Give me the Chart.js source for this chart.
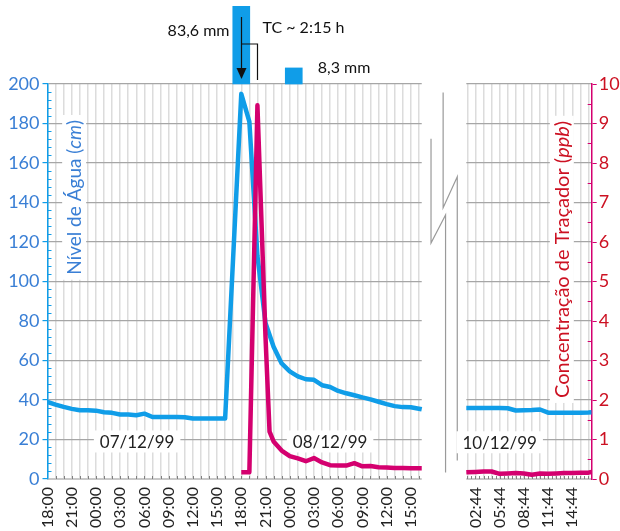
<!DOCTYPE html>
<html>
<head>
<meta charset="utf-8">
<script src="https://cdn.jsdelivr.net/npm/chart.js@4.4.1/dist/chart.umd.min.js"></script>
<style>
  html, body { margin: 0; padding: 0; background: #fff; }
  #wrap { position: relative; width: 620px; height: 531px; }
</style>
</head>
<body>
<div id="wrap"><canvas id="chart" width="620" height="531"></canvas></div>
<script>
// painel esquerdo: horas desde 07/12/99 18:00
const levelHours = [0,1,2,3,4,5,6,7,8,9,10,11,12,13,14,15,16,17,18,19,20,21,22,
  24,25,26,27,28,29,30,31,32,33,34,35,36,37,38,39,40,41,42,43,44,45,46,46.35];
const levelValues = [39,37.7,36.5,35.5,34.8,34.8,34.6,33.8,33.5,32.7,32.6,32.3,33.1,31.4,31.4,31.4,31.4,31.3,30.6,30.6,30.6,30.6,30.6,
  195,181,113,79,67,58.5,54.5,52,50.5,50.2,47.5,46.6,44.6,43.4,42.4,41.3,40.3,39.1,37.9,36.9,36.4,36.3,35.6,35.3];

const tracerHours = [24,25,26,27,27.5,28,29,30,31,32,33,34,35,36,37,38,39,40,41,42,43,44,45,46,46.35];
const tracerValues = [0.17,0.17,9.46,3.6,1.2,0.95,0.72,0.58,0.52,0.45,0.53,0.42,0.35,0.34,0.34,0.40,0.32,0.33,0.30,0.29,0.28,0.28,0.27,0.27,0.27];

// painel direito: horas do dia 10/12/99
const rightHours = [1.6,2.73,3.73,4.73,5.73,6.73,7.73,8.73,9.73,10.73,11.73,12.73,13.73,14.73,15.73,16.73,17.13];
const rightLevel = [35.9,35.9,35.9,35.9,35.9,35.8,34.7,34.8,34.9,35.2,33.6,33.5,33.5,33.6,33.6,33.7,33.8];
const rightTracer = [0.17,0.18,0.19,0.19,0.13,0.14,0.15,0.14,0.11,0.14,0.13,0.14,0.15,0.15,0.16,0.16,0.18];

// chuva (mm)
const rainHours = [24, 30.5];
const rainMm = [83.6, 8.3];

const leftTickLabels = ['18:00','21:00','00:00','03:00','06:00','09:00','12:00','15:00',
  '18:00','21:00','00:00','03:00','06:00','09:00','12:00','15:00'];
const rightTickLabels = ['02:44','05:44','08:44','11:44','14:44'];
const dateLabels = ['07/12/99', '08/12/99', '10/12/99'];

const RIGHT_SHIFT = 50.27;          // posição do painel direito no eixo x
const LEFT_END = 46.35;
const RIGHT_START = rightHours[0] + RIGHT_SHIFT;
const X_MAX = rightHours[rightHours.length - 1] + RIGHT_SHIFT;

const BLUE = '#109de8', MAGENTA = '#d4006f', AXIS_BLUE = '#3a7fd5', RED = '#cc1122';
const FONT = 'Lato, "Open Sans", sans-serif';

const pts = (xs, ys) => xs.map((x, i) => ({ x, y: ys[i] }));
const shift = xs => xs.map(x => +(x + RIGHT_SHIFT).toFixed(3));

// ticks do eixo x: grade a cada hora, rótulo a cada 3 h
const xTicks = [];
for (let h = 0; h <= 46; h++) xTicks.push({ value: h, label: h % 3 === 0 ? leftTickLabels[h / 3] : '' });
for (let k = -1; k <= 14; k++) {
  const v = +(2.73 + k + RIGHT_SHIFT).toFixed(3);
  xTicks.push({ value: v, label: k >= 0 && k % 3 === 0 ? rightTickLabels[k / 3] : '' });
}

function richText(ctx, parts, cx, cy, color, size, box) {
  ctx.save();
  ctx.translate(cx, cy);
  ctx.rotate(-Math.PI / 2);
  let w = 0;
  const widths = parts.map(([t, it]) => {
    ctx.font = (it ? 'italic ' : '') + size + 'px ' + FONT;
    const m = ctx.measureText(t).width; w += m; return m;
  });
  if (box) { ctx.fillStyle = '#fff'; ctx.fillRect(-w / 2 - 5, -12, w + 10, 24); }
  ctx.fillStyle = color;
  ctx.textBaseline = 'middle';
  let x0 = -w / 2;
  parts.forEach(([t, it], i) => {
    ctx.font = (it ? 'italic ' : '') + size + 'px ' + FONT;
    ctx.fillText(t, x0, 1);
    x0 += widths[i];
  });
  ctx.restore();
}

const decor = {
  id: 'decor',
  beforeDatasetsDraw(chart) {
    const { ctx, chartArea: a, scales: { x, y, y1 } } = chart;
    ctx.save();
    // interrupção do eixo
    const gx0 = x.getPixelForValue(LEFT_END), gx1 = x.getPixelForValue(RIGHT_START);
    ctx.fillStyle = '#fff';
    ctx.fillRect(gx0, a.top - 2, gx1 - gx0, a.bottom - a.top + 6);

    // marcas menores
    ctx.lineWidth = 1;
    ctx.strokeStyle = BLUE;
    for (let v = 4; v < 200; v += 4) {
      if (v % 20 === 0) continue;
      const py = Math.round(y.getPixelForValue(v)) + 0.5;
      ctx.beginPath(); ctx.moveTo(a.left, py); ctx.lineTo(a.left + 4, py); ctx.stroke();
    }
    ctx.strokeStyle = MAGENTA;
    for (let v = 0.5; v < 10; v += 1) {
      const py = Math.round(y1.getPixelForValue(v)) + 0.5;
      ctx.beginPath(); ctx.moveTo(a.right - 4, py); ctx.lineTo(a.right, py); ctx.stroke();
    }
    ctx.strokeStyle = '#808080';
    const xt = [];
    for (let h = 1; h <= 46; h++) xt.push(h);
    for (let v = 52; v <= X_MAX; v += 0.5) xt.push(v);
    xt.forEach(v => {
      const px = Math.round(x.getPixelForValue(v)) + 0.5;
      ctx.beginPath(); ctx.moveTo(px, a.bottom - 3); ctx.lineTo(px, a.bottom); ctx.stroke();
    });

    // símbolo de quebra
    const breakLines = [
      [[49.0, 195.7], [49.0, 137.3], [50.75, 153], [50.75, 9.4]],
      [[47.5, 172.3], [47.5, 119.5], [49.3, 133.7], [49.3, 3.3]]
    ];
    ctx.strokeStyle = '#9a9a9a';
    ctx.lineWidth = 1.2;
    breakLines.forEach(line => {
      ctx.beginPath();
      line.forEach(([hx, vy], i) => {
        const px = x.getPixelForValue(hx), py = y.getPixelForValue(vy);
        i ? ctx.lineTo(px, py) : ctx.moveTo(px, py);
      });
      ctx.stroke();
    });

    // datas
    const datePos = [[11.1, 19], [35.0, 19], [56.0, 18.6]];
    ctx.font = '17px ' + FONT;
    ctx.textAlign = 'center';
    ctx.textBaseline = 'middle';
    dateLabels.forEach((t, i) => {
      const px = x.getPixelForValue(datePos[i][0]), py = y.getPixelForValue(datePos[i][1]);
      const w = ctx.measureText(t).width;
      ctx.fillStyle = '#fff';
      ctx.fillRect(px - w / 2 - 6, py - 11, w + 12, 22);
      ctx.fillStyle = '#222';
      ctx.fillText(t, px, py + 1);
    });
    ctx.restore();

    // títulos dos eixos
    richText(ctx, [['Nível de Água (', false], ['cm', true], [')', false]],
      x.getPixelForValue(3.3), y.getPixelForValue(142.6), AXIS_BLUE, 19, true);
    richText(ctx, [['Concentração de Traçador (', false], ['ppb', true], [')', false]],
      x.getPixelForValue(63.7), y1.getPixelForValue(5.56), RED, 20, true);
  },
  afterDraw(chart) {
    const { ctx, chartArea: a, scales: { x } } = chart;
    const ax = Math.round(x.getPixelForValue(rainHours[0])) + 0.5;
    const bx = Math.round(x.getPixelForValue(26)) + 0.5;
    ctx.save();
    ctx.strokeStyle = '#111';
    ctx.fillStyle = '#111';
    ctx.lineWidth = 1.2;
    // seta
    ctx.beginPath(); ctx.moveTo(ax, a.top - 67); ctx.lineTo(ax, a.top - 14); ctx.stroke();
    ctx.beginPath(); ctx.moveTo(ax - 5, a.top - 16); ctx.lineTo(ax + 5, a.top - 16); ctx.lineTo(ax, a.top - 5); ctx.closePath(); ctx.fill();
    // TC
    ctx.beginPath(); ctx.moveTo(ax, a.top - 40); ctx.lineTo(bx, a.top - 40); ctx.lineTo(bx, a.top - 4); ctx.stroke();
    ctx.font = '16px ' + FONT;
    ctx.textBaseline = 'alphabetic';
    ctx.textAlign = 'right';
    ctx.fillText(rainMm[0].toFixed(1).replace('.', ',') + ' mm', ax - 12, a.top - 48);
    ctx.textAlign = 'left';
    ctx.fillText('TC ~ 2:15 h', bx + 5, a.top - 51);
    ctx.fillText(rainMm[1].toFixed(1).replace('.', ',') + ' mm', x.getPixelForValue(rainHours[1]) + 24, a.top - 11);
    ctx.restore();
  }
};

const lineStyle = { borderWidth: 4.5, pointRadius: 0, tension: 0, borderJoinStyle: 'round', fill: false };

new Chart(document.getElementById('chart'), {
  type: 'line',
  data: {
    datasets: [
      { ...lineStyle, data: pts(tracerHours, tracerValues), borderColor: MAGENTA, yAxisID: 'y1' },
      { ...lineStyle, data: pts(shift(rightHours), rightTracer), borderColor: MAGENTA, yAxisID: 'y1' },
      { ...lineStyle, data: pts(levelHours, levelValues), borderColor: BLUE, yAxisID: 'y' },
      { ...lineStyle, data: pts(shift(rightHours), rightLevel), borderColor: BLUE, yAxisID: 'y' },
      { type: 'bar', data: pts(rainHours, rainMm), yAxisID: 'yRain', backgroundColor: BLUE,
        barThickness: 17, borderWidth: 0, clip: { left: false, top: 78, right: false, bottom: false } }
    ]
  },
  options: {
    responsive: false,
    animation: false,
    layout: { padding: { top: 84, left: 0, right: 0, bottom: 0 } },
    plugins: { legend: { display: false }, tooltip: { enabled: false } },
    scales: {
      x: {
        type: 'linear', min: 0, max: X_MAX, offset: false,
        grid: { color: '#dcdcdc', lineWidth: 1.5, drawTicks: false, offset: false },
        border: { color: '#c8c8c8' },
        afterBuildTicks: s => { s.ticks = xTicks.map(t => ({ value: t.value })); },
        afterFit: s => { s.height = 52; },
        ticks: {
          autoSkip: false, minRotation: 90, maxRotation: 90, padding: 8,
          color: '#222', font: { family: FONT, size: 16 },
          callback: (v, i) => xTicks[i] ? xTicks[i].label : ''
        }
      },
      y: {
        position: 'left', min: 0, max: 200,
        grid: { color: c => c.tick && c.tick.value === 0 ? '#c8c8c8' : '#a6a6a6', lineWidth: 1.2, tickColor: BLUE, tickLength: 5 },
        border: { color: BLUE, width: 1.5 },
        afterFit: s => { s.width = 47.5; },
        ticks: { stepSize: 20, padding: 3, color: AXIS_BLUE, font: { family: FONT, size: 18 } }
      },
      y1: {
        position: 'right', min: 0, max: 10,
        grid: { drawOnChartArea: false, tickColor: MAGENTA, tickLength: 5 },
        border: { color: MAGENTA, width: 1.5 },
        afterFit: s => { s.width = 28.3; },
        ticks: { stepSize: 1, padding: 2, color: RED, font: { family: FONT, size: 18 } }
      },
      yRain: { display: false, min: -204, max: 0 }
    }
  },
  plugins: [decor]
});
</script>
</body>
</html>
